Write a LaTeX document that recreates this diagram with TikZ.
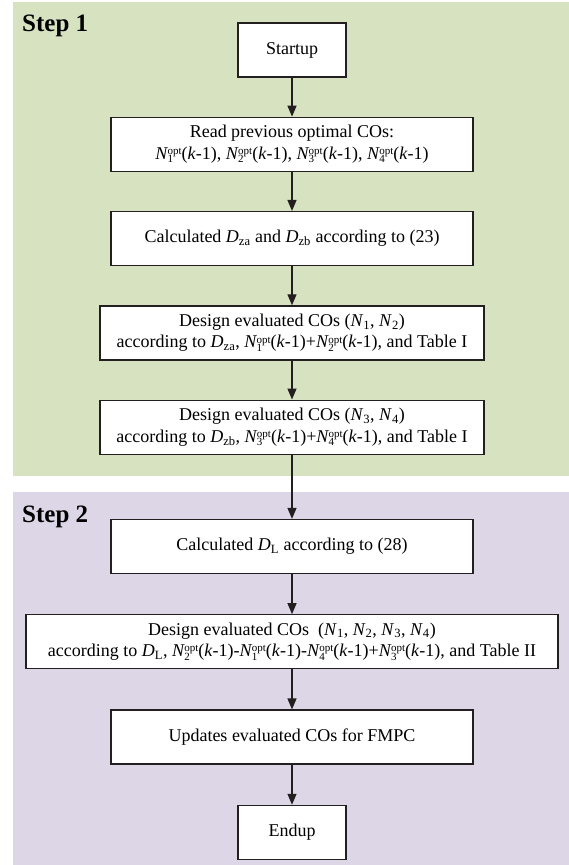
\documentclass[tikz,border=0pt]{standalone}
\usepackage{fontspec}
\setmainfont{Liberation Serif}
\usepackage{tikz}
\usetikzlibrary{positioning,arrows.meta}

\definecolor{stepgreen}{RGB}{215,226,192}
\definecolor{steppurple}{RGB}{220,214,230}
\definecolor{boxline}{RGB}{35,31,32}

\newcommand{\Nopt}[1]{\textit{N}\kern-0.6pt\rlap{\raisebox{-0.4ex}{\fontsize{11}{11}\selectfont #1}}\raisebox{0.6ex}{\fontsize{11}{11}\selectfont opt}}
\newcommand{\kmo}{(\textit{k}-1)}

\tikzset{
  procbox/.style={draw=boxline, line width=1.3pt, fill=white, minimum height=54pt, align=center, inner sep=2pt, font=\fontsize{18}{21.5}\selectfont},
  flowarrow/.style={draw=boxline, line width=1.3pt, -{Triangle[length=11pt,width=9pt]}},
  steplabel/.style={font=\fontsize{25}{30}\selectfont\bfseries, anchor=base west, inner sep=0pt}
}

\begin{document}
\begin{tikzpicture}[x=1pt,y=1pt]
            \useasboundingbox (0,0) rectangle (569,-865);
            % backgrounds of the two steps
            \fill[stepgreen] (13,-2) rectangle (569,-476);
            \fill[steppurple] (13,-492) rectangle (569,-865);
            \node[steplabel] at (22,-31) (stepone) {Step 1};
            \node[steplabel] at (22,-522) (steptwo) {Step 2};

            % step 1
            \node[procbox, minimum width=108pt] at (292,-50) (startup) {Startup};
            \node[procbox, minimum width=362pt, below=39pt of startup] (readco) {Read previous optimal COs:\\ \Nopt{1}\kmo, \Nopt{2}\kmo, \Nopt{3}\kmo, \Nopt{4}\kmo};
            \node[procbox, minimum width=362pt, below=39pt of readco] (calcdz) {Calculated \textit{D}\textsubscript{za} and \textit{D}\textsubscript{zb} according to (23)};
            \node[procbox, minimum width=384pt, below=39pt of calcdz] (designa) {Design evaluated COs (\textit{N}\textsubscript{1}, \textit{N}\textsubscript{2})\\ according to \textit{D}\textsubscript{za}, \Nopt{1}\kmo+\Nopt{2}\kmo, and Table I};
            \node[procbox, minimum width=384pt, below=39pt of designa] (designb) {Design evaluated COs (\textit{N}\textsubscript{3}, \textit{N}\textsubscript{4})\\ according to \textit{D}\textsubscript{zb}, \Nopt{3}\kmo+\Nopt{4}\kmo, and Table I};

            % step 2
            \node[procbox, minimum width=362pt, below=64pt of designb] (calcdl) {Calculated \textit{D}\textsubscript{L} according to (28)};
            \node[procbox, minimum width=532pt, below=40pt of calcdl] (designc) {Design evaluated COs\ \ (\textit{N}\textsubscript{1}, \textit{N}\textsubscript{2}, \textit{N}\textsubscript{3}, \textit{N}\textsubscript{4})\\ according to \textit{D}\textsubscript{L}, \Nopt{2}\kmo-\Nopt{1}\kmo-\Nopt{4}\kmo+\Nopt{3}\kmo, and Table II};
            \node[procbox, minimum width=362pt, below=40pt of designc] (update) {Updates evaluated COs for FMPC};
            \node[procbox, minimum width=108pt, below=40pt of update] (endup) {Endup};

            \draw[flowarrow] (startup) -- (readco);
            \draw[flowarrow] (readco) -- (calcdz);
            \draw[flowarrow] (calcdz) -- (designa);
            \draw[flowarrow] (designa) -- (designb);
            \draw[flowarrow] (designb) -- (calcdl);
            \draw[flowarrow] (calcdl) -- (designc);
            \draw[flowarrow] (designc) -- (update);
            \draw[flowarrow] (update) -- (endup);
        \end{tikzpicture}
\end{document}
